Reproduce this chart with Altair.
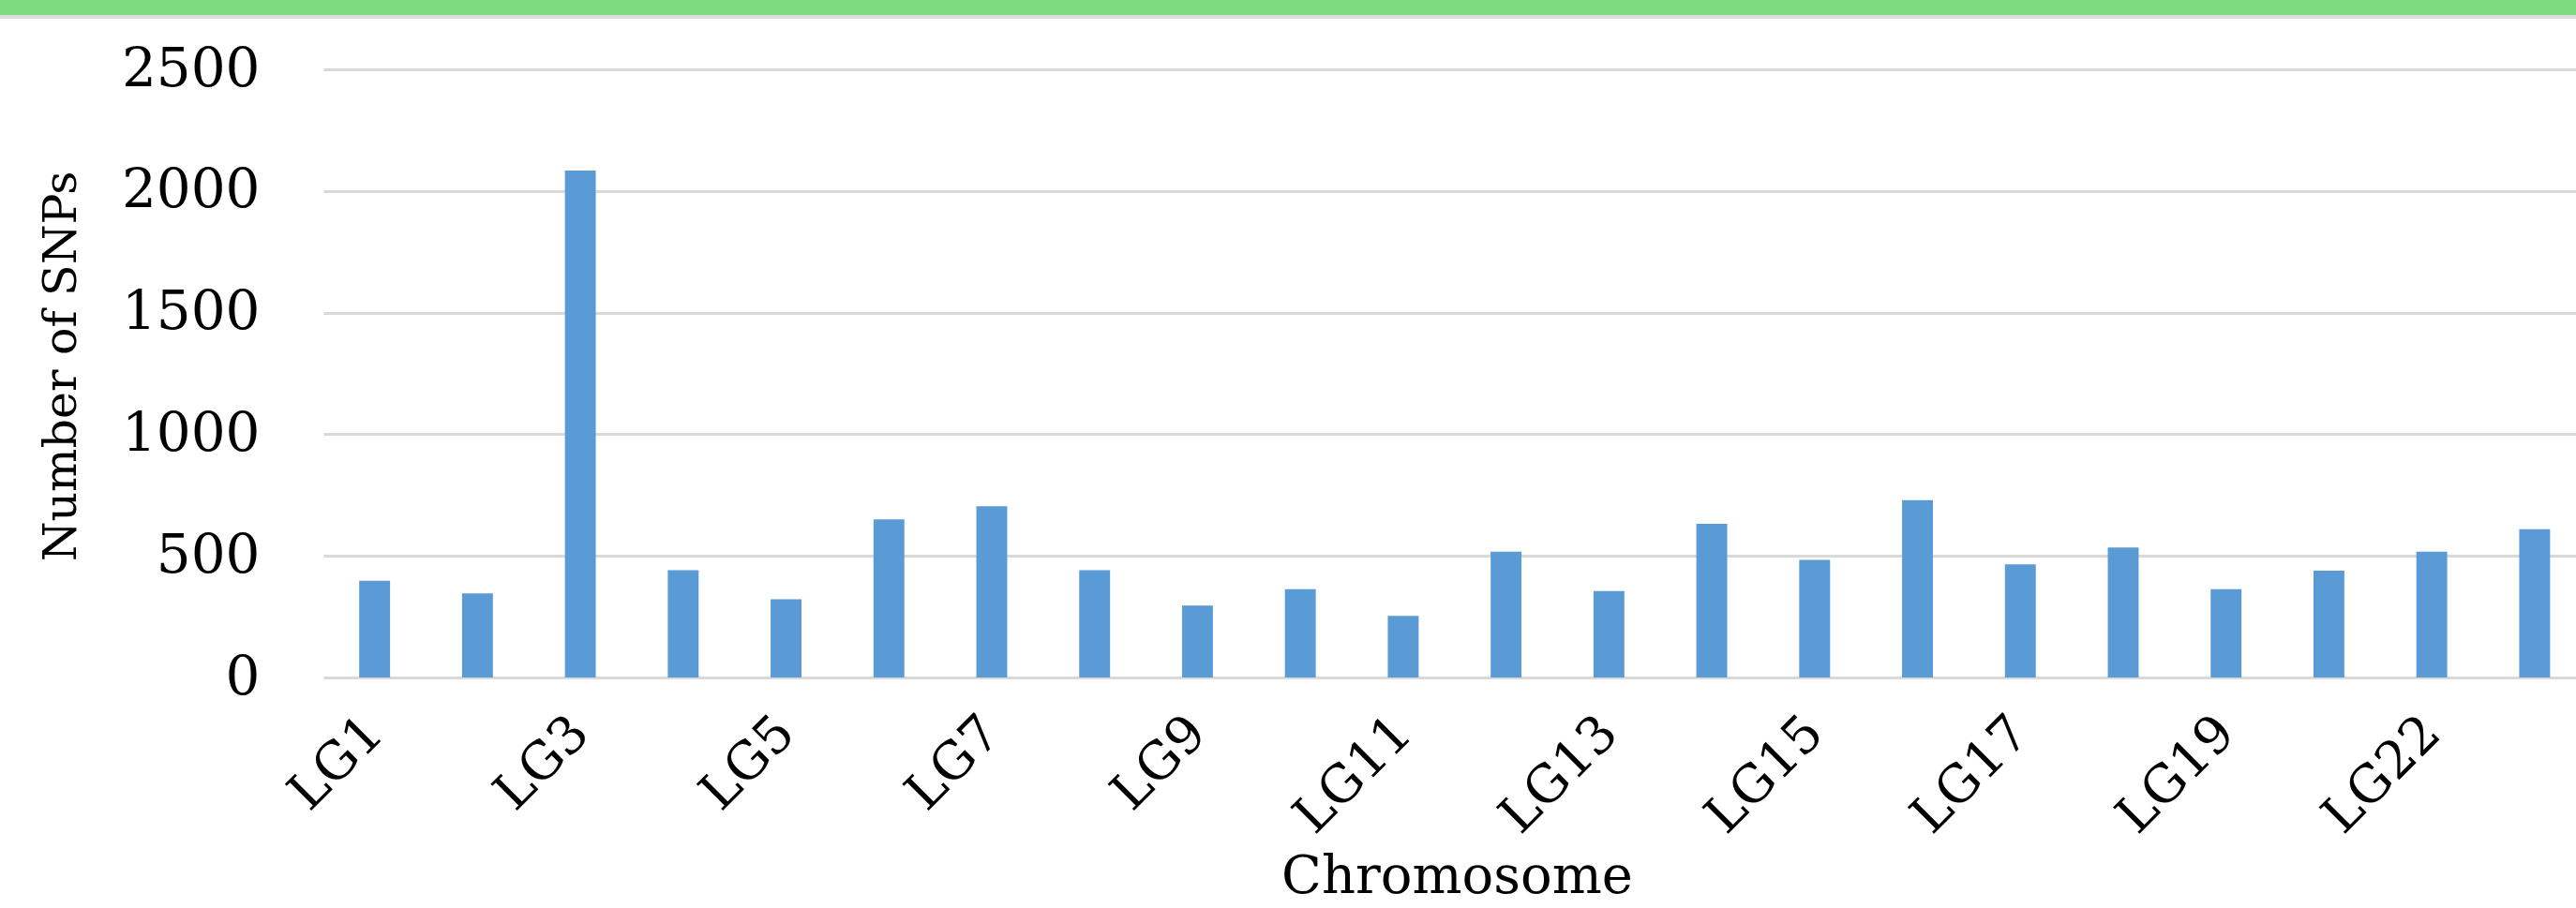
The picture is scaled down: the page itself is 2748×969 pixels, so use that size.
import altair as alt
import pandas as pd

chromosomes = ["LG1", "LG2", "LG3", "LG4", "LG5", "LG6", "LG7", "LG8", "LG9", "LG10",
               "LG11", "LG12", "LG13", "LG14", "LG15", "LG16", "LG17", "LG18", "LG19",
               "LG20", "LG22", "LG23"]
snps = [398, 346, 2084, 441, 322, 650, 704, 441, 296, 363,
        253, 517, 355, 632, 483, 729, 465, 534, 363,
        439, 517, 610]
shown_labels = ["LG1", "LG3", "LG5", "LG7", "LG9", "LG11", "LG13", "LG15", "LG17", "LG19", "LG22"]
y_ticks = [0, 500, 1000, 1500, 2000, 2500]

df = pd.DataFrame({"Chromosome": chromosomes, "SNPs": snps})

FONT = "DejaVu Serif"
W, H = 2403, 649
LEFT, TOP = 345, 74

bars = alt.Chart(df).mark_bar(color="#5B9BD5").encode(
    x=alt.X("Chromosome:N", sort=chromosomes,
            scale=alt.Scale(paddingInner=0.70, paddingOuter=0.30, align=0.58),
            axis=alt.Axis(values=shown_labels, labelAngle=315, labelAlign="right",
                          labelBaseline="middle", labelFontSize=55, labelFont=FONT,
                          labelColor="#000000", labelPadding=50, ticks=False, domain=False,
                          grid=False, labelOverlap=False,
                          title="Chromosome", titleFont=FONT, titleFontSize=56,
                          titleFontWeight="normal", titleColor="#000000",
                          titleX=1209, titleY=229, titleAnchor="middle",
                          titleAlign="center", titleBaseline="alphabetic")),
    y=alt.Y("SNPs:Q", scale=alt.Scale(domain=[0, 2500], nice=False),
            axis=alt.Axis(values=y_ticks, format="d", labelFontSize=58, labelFont=FONT,
                          labelColor="#000000", labelPadding=68, ticks=False,
                          domain=False, grid=True, gridColor="#d9d9d9", gridWidth=3,
                          title="Number of SNPs", titleFont=FONT, titleFontSize=49,
                          titleFontWeight="normal", titleColor="#000000",
                          titleX=-280, titleY=H / 2 - 8, titleAngle=270,
                          titleAlign="center", titleBaseline="middle")),
)

band_df = pd.DataFrame({"k": [0]})
green = alt.Chart(band_df).mark_rect(color="#7FDB7F").encode(
    x=alt.value(-LEFT), x2=alt.value(W + 10), y=alt.value(-TOP), y2=alt.value(-TOP + 16)
)
grey = alt.Chart(band_df).mark_rect(color="#dcdcdc").encode(
    x=alt.value(-LEFT), x2=alt.value(W + 10), y=alt.value(-TOP + 16), y2=alt.value(-TOP + 20)
)

chart = alt.layer(bars, green, grey).properties(
    width=W, height=H,
    padding={"left": LEFT, "top": TOP, "right": 0, "bottom": 969 - TOP - H},
    autosize=alt.AutoSizeParams(type="none"),
    background="#ffffff",
).configure_view(stroke=None)

chart.save("out.html", embed_options={"renderer": "svg", "actions": False})
